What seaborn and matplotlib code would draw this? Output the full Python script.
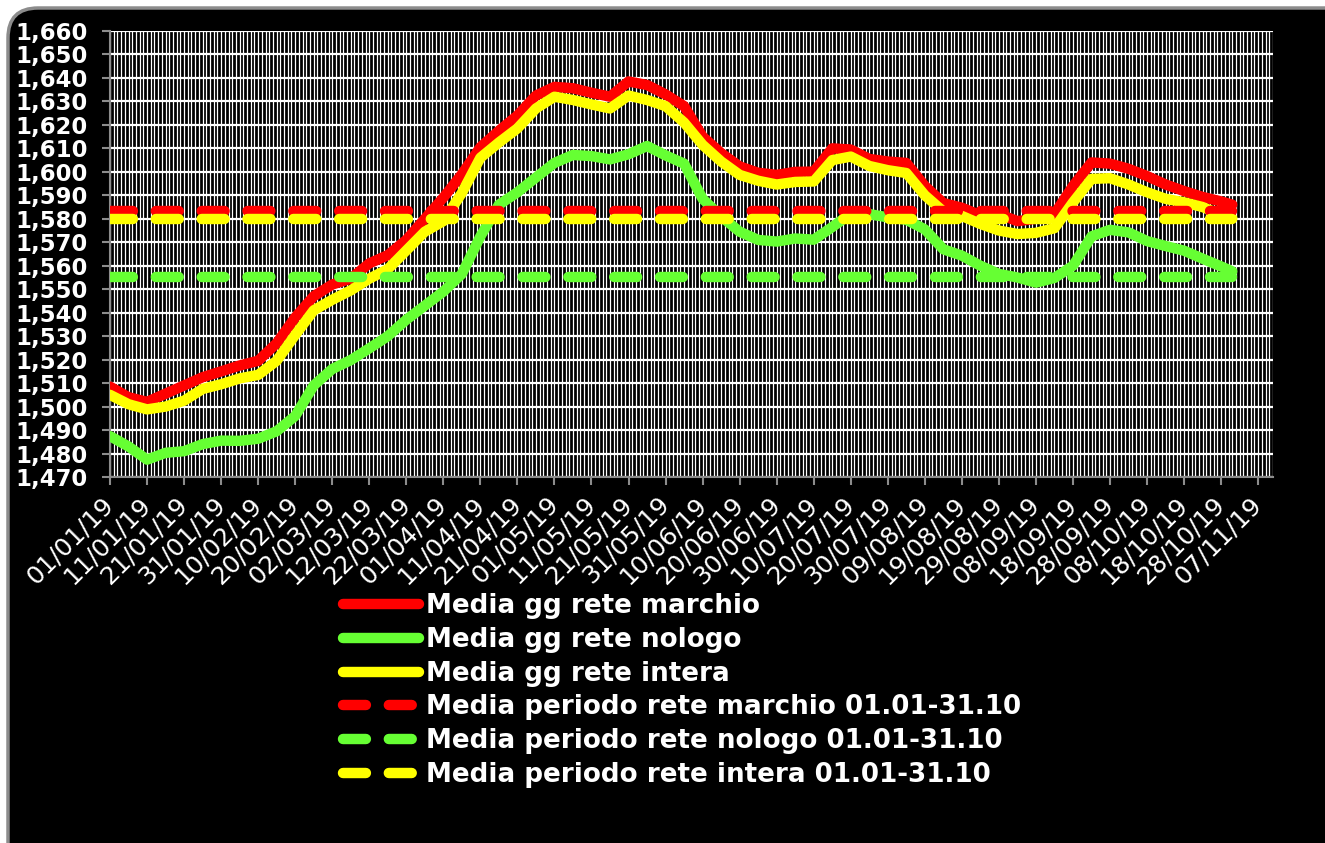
import matplotlib
matplotlib.use("Agg")
import matplotlib.pyplot as plt
import matplotlib.dates as mdates
import matplotlib.ticker as mticker
from matplotlib.patches import FancyBboxPatch
from matplotlib.transforms import IdentityTransform
import numpy as np
import pandas as pd
import seaborn as sns

# data, one value every 5 days (plus 31/10)
dates = list(pd.date_range("2019-01-01", "2019-10-28", freq="5D")) + [pd.Timestamp("2019-10-31")]

marchio = [1508.5, 1504.0, 1502.0, 1505.5, 1509.0, 1512.5, 1515.0, 1517.5, 1519.5, 1527.0,
           1538.0, 1547.0, 1552.0, 1554.5, 1561.0, 1564.5, 1571.0, 1580.0, 1589.0, 1599.0,
           1610.5, 1617.5, 1624.0, 1632.5, 1636.2, 1635.6, 1633.7, 1632.0, 1638.5, 1637.0,
           1633.0, 1628.0, 1615.0, 1608.0, 1602.3, 1599.6, 1598.7, 1600.0, 1600.1, 1610.0,
           1609.5, 1605.5, 1604.4, 1603.8, 1594.0, 1586.7, 1584.7, 1581.5, 1582.0, 1579.0,
           1580.0, 1582.0, 1594.0, 1604.0, 1603.5, 1601.3, 1598.2, 1594.6, 1591.8, 1589.3,
           1587.4, 1586.0]
nologo = [1487.4, 1483.0, 1477.4, 1480.3, 1481.0, 1484.0, 1485.5, 1485.4, 1486.3, 1489.5,
          1496.0, 1509.0, 1516.0, 1519.8, 1524.8, 1530.0, 1537.0, 1543.0, 1549.0, 1556.5,
          1572.5, 1586.0, 1591.3, 1597.6, 1603.8, 1607.2, 1606.7, 1605.3, 1607.5, 1611.0,
          1607.0, 1603.5, 1588.5, 1581.0, 1574.5, 1571.0, 1570.3, 1571.6, 1571.1, 1576.5,
          1582.2, 1582.0, 1580.6, 1579.6, 1575.5, 1567.0, 1564.3, 1560.0, 1556.5, 1555.0,
          1552.8, 1554.8, 1560.0, 1572.5, 1575.3, 1574.2, 1570.5, 1568.4, 1566.4, 1563.0,
          1559.7, 1557.6]
intera = [1505.0, 1501.0, 1498.8, 1500.0, 1502.5, 1507.5, 1509.5, 1512.0, 1513.5, 1519.5,
          1530.5, 1541.0, 1545.5, 1549.5, 1554.5, 1558.5, 1566.5, 1574.5, 1579.0, 1591.0,
          1606.0, 1612.5, 1618.5, 1627.0, 1632.0, 1630.6, 1628.7, 1627.0, 1632.5, 1630.6,
          1628.0, 1621.0, 1611.5, 1604.4, 1598.7, 1596.2, 1594.6, 1595.7, 1595.9, 1605.0,
          1606.5, 1602.5, 1600.7, 1599.5, 1590.0, 1583.1, 1581.2, 1577.8, 1575.0, 1573.5,
          1574.0, 1576.0, 1587.0, 1597.0, 1597.3, 1594.6, 1591.3, 1588.5, 1587.0, 1585.0,
          1581.7, 1580.2]

media_marchio = 1583.5
media_nologo = 1555.0
media_intera = 1580.0

labels = ["Media gg rete marchio", "Media gg rete nologo", "Media gg rete intera",
          "Media periodo rete marchio 01.01-31.10", "Media periodo rete nologo 01.01-31.10",
          "Media periodo rete intera 01.01-31.10"]
tick_dates = pd.date_range("2019-01-01", "2019-11-07", freq="10D")

RED, GREEN, YELLOW = "#FF0000", "#66FF33", "#FFFF00"
GREY = "#8C8C8C"

sns.set_style("dark")
W, H = 1325, 843
fig = plt.figure(figsize=(W / 100, H / 100), dpi=100, facecolor="white")

# black rounded panel behind everything
panel = FancyBboxPatch((8, -100), 1500, H - 8 + 100, boxstyle="round,pad=0,rounding_size=30",
                       transform=IdentityTransform(), facecolor="black", edgecolor=GREY,
                       linewidth=2.5, zorder=-1)
fig.patches.append(panel)

ax = fig.add_axes([110 / W, 1 - 477 / H, (1273 - 110) / W, (477 - 31) / H])
ax.set_facecolor("black")

lw = 7.5
solid = dict(linewidth=lw, solid_capstyle="round", solid_joinstyle="round")
dashed = dict(linewidth=lw, linestyle=(0, (2.2, 2.2)), dash_capstyle="round")

sns.lineplot(x=dates, y=marchio, color=RED, label=labels[0], ax=ax, zorder=3, **solid)
sns.lineplot(x=dates, y=nologo, color=GREEN, label=labels[1], ax=ax, zorder=3, **solid)
sns.lineplot(x=dates, y=intera, color=YELLOW, label=labels[2], ax=ax, zorder=4, **solid)
sns.lineplot(x=dates, y=np.full(len(dates), media_marchio), color=RED, label=labels[3], ax=ax, zorder=5, **dashed)
sns.lineplot(x=dates, y=np.full(len(dates), media_nologo), color=GREEN, label=labels[4], ax=ax, zorder=5, **dashed)
sns.lineplot(x=dates, y=np.full(len(dates), media_intera), color=YELLOW, label=labels[5], ax=ax, zorder=6, **dashed)

ax.set_xlim(pd.Timestamp("2019-01-01"), pd.Timestamp("2019-11-11"))
ax.set_ylim(1470, 1660)
ax.set_xlabel("")
ax.set_ylabel("")

ax.yaxis.set_major_locator(mticker.MultipleLocator(10))
ax.yaxis.set_major_formatter(mticker.FuncFormatter(lambda v, p: f"{v:,.0f}"))
ax.xaxis.set_major_locator(mticker.FixedLocator(mdates.date2num(tick_dates)))
ax.xaxis.set_major_formatter(mdates.DateFormatter("%d/%m/%y"))
ax.xaxis.set_minor_locator(mdates.DayLocator())

ax.grid(False)
ax.grid(which="major", axis="y", color="white", linewidth=1.6)
ax.grid(which="both", axis="x", color="white", linewidth=0.9)
ax.set_axisbelow(True)

for s in ["top", "right"]:
    ax.spines[s].set_visible(False)
for s in ["left", "bottom"]:
    ax.spines[s].set_visible(True)
    ax.spines[s].set_color(GREY)
    ax.spines[s].set_linewidth(1.5)

ax.tick_params(which="major", direction="out", length=6, width=1.5, color=GREY, bottom=True, left=True)
ax.tick_params(which="minor", length=0)
ax.tick_params(axis="y", pad=10)
ax.tick_params(axis="x", pad=11)

for t in ax.get_yticklabels():
    t.set_fontfamily("DejaVu Sans")
    t.set_fontweight("bold")
    t.set_fontsize(16.4)
    t.set_color("white")
for t in ax.get_xticklabels():
    t.set_fontfamily("DejaVu Sans")
    t.set_fontsize(18)
    t.set_color("white")
    t.set_rotation(45)
    t.set_ha("right")
    t.set_va("center")
    t.set_rotation_mode("anchor")

if ax.get_legend() is not None:
    ax.get_legend().remove()
handles, labs = ax.get_legend_handles_labels()
fig.legend(handles, labs, loc="upper left", bbox_to_anchor=(343 / W, 1 - 593 / H),
           frameon=False, prop={"family": "DejaVu Sans", "weight": "bold", "size": 18.8},
           labelcolor="white", handlelength=2.9, handletextpad=0.28, labelspacing=0.3,
           borderpad=0, borderaxespad=0)

fig.savefig("out.png", dpi=100, facecolor=fig.get_facecolor())
